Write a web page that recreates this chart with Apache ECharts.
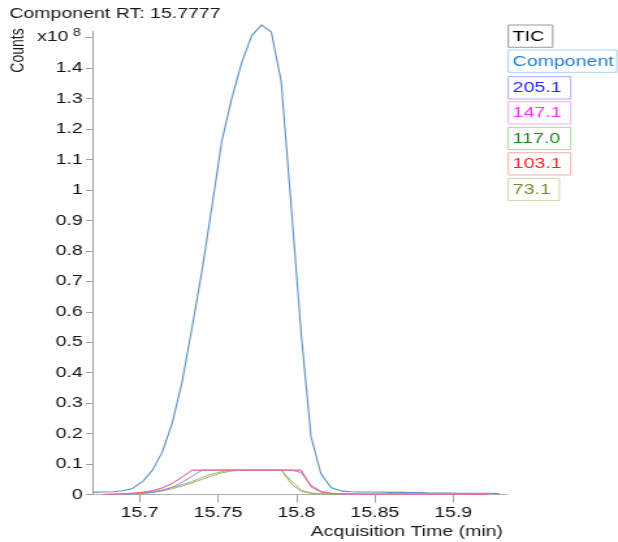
<!DOCTYPE html>
<html>
<head>
<meta charset="utf-8">
<script src="https://cdn.jsdelivr.net/npm/echarts@6/dist/echarts.min.js"></script>
<style>
html,body{margin:0;padding:0;background:#fff;overflow:hidden;}
#c{width:475px;height:542px;transform:scaleX(1.301053);transform-origin:0 0;}
</style>
</head>
<body>
<div id="c"></div>
<script>
// Retention times (min)
const times = [15.6703, 15.6766, 15.6829, 15.6892, 15.6955, 15.7019, 15.7082, 15.7145, 15.7208, 15.7271,
  15.7335, 15.7398, 15.7461, 15.7524, 15.7587, 15.7651, 15.7714, 15.7777, 15.7840, 15.7903,
  15.7967, 15.8030, 15.8093, 15.8156, 15.8219, 15.8283, 15.8346, 15.8409, 15.8472, 15.8535,
  15.8599, 15.8662, 15.8725, 15.8788, 15.8851, 15.8915, 15.8978, 15.9041, 15.9104, 15.9167,
  15.9231, 15.9294];
// Counts, x10^8
const componentVals = [0.007, 0.008, 0.009, 0.0125, 0.02, 0.042, 0.08, 0.14, 0.235, 0.37,
  0.55, 0.735, 0.945, 1.16, 1.30, 1.418, 1.506, 1.542, 1.518, 1.356,
  0.944, 0.53, 0.19, 0.069, 0.023, 0.012, 0.009, 0.008, 0.008, 0.008,
  0.007, 0.007, 0.006, 0.006, 0.005, 0.005, 0.005, 0.004, 0.004, 0.004,
  0.004, 0.003];
const ion205 = [null, 0, 0.0005, 0.001, 0.002, 0.004, 0.007, 0.013, 0.024, 0.04, 0.06,
  0.08, 0.08, 0.08, 0.08, 0.08, 0.08, 0.08, 0.08, 0.08, 0.08,
  0.072, 0.03, 0.011, 0.004, 0.002, 0.0015,
  0.001, 0.001, 0.001, 0.001, 0.001, 0.001, 0.001, 0.001, 0.001, 0.001, 0.001, 0.001, 0.001, 0.001, null];
const ion147 = [null, 0, 0.001, 0.002, 0.004, 0.008, 0.013, 0.022, 0.037, 0.058, 0.08,
  0.08, 0.08, 0.08, 0.08, 0.08, 0.08, 0.08, 0.08, 0.08, 0.08, 0.08,
  0.027, 0.009, 0.004, 0.002, 0.0015,
  0.001, 0.001, 0.001, 0.001, 0.001, 0.001, 0.001, 0.001, 0.001, 0.001, 0.001, 0.001, 0.001, 0.001, null];
const ion117 = [null, 0, 0.0005, 0.001, 0.003, 0.005, 0.009, 0.015, 0.023, 0.032, 0.043, 0.056, 0.067, 0.075,
  0.08, 0.08, 0.08, 0.08, 0.08, 0.08,
  0.045, 0.014, 0.005, 0.002, 0.0015, 0.001, 0.001,
  0.001, 0.001, 0.001, 0.001, 0.001, 0.001, 0.001, 0.001, 0.001, 0.001, 0.001, 0.001, 0.001, 0.001, null];
const ion103 = [null, 0, 0.001, 0.002, 0.004, 0.007, 0.012, 0.021, 0.036, 0.057, 0.08,
  0.08, 0.08, 0.08, 0.08, 0.08, 0.08, 0.08, 0.08, 0.08, 0.08, 0.08,
  0.025, 0.008, 0.003, 0.002, 0.0015,
  0.001, 0.001, 0.001, 0.001, 0.001, 0.001, 0.001, 0.001, 0.001, 0.001, 0.001, 0.001, 0.001, 0.001, null];
const ion73 = [null, 0, 0.0003, 0.0008, 0.002, 0.003, 0.007, 0.012, 0.019, 0.028, 0.038, 0.05, 0.061, 0.071, 0.077,
  0.08, 0.08, 0.08, 0.08, 0.08,
  0.035, 0.01, 0.004, 0.002, 0.001, 0.001, 0.001,
  0.0008, 0.0008, 0.0008, 0.0008, 0.0008, 0.0008, 0.0008, 0.0008, 0.0008, 0.0008, 0.0008, 0.0008, 0.0008, 0.0008, null];

const xTicks = [15.7, 15.75, 15.8, 15.85, 15.9];
const yTicks = [0, 0.1, 0.2, 0.3, 0.4, 0.5, 0.6, 0.7, 0.8, 0.9, 1.0, 1.1, 1.2, 1.3, 1.4, 1.5];
const yLabels = [0, 0.1, 0.2, 0.3, 0.4, 0.5, 0.6, 0.7, 0.8, 0.9, 1.0, 1.1, 1.2, 1.3, 1.4];
const legendItems = ['TIC', 'Component', '205.1', '147.1', '117.0', '103.1', '73.1'];

const FONT = 'Liberation Sans, Arial, sans-serif';

function pairs(vals) {
  const out = [];
  for (let i = 0; i < vals.length; i++) {
    if (vals[i] !== null) out.push([times[i], vals[i]]);
  }
  return out;
}

function lineSeries(name, vals, color, width) {
  return {
    name: name, type: 'line', data: pairs(vals), symbol: 'none', clip: false,
    lineStyle: { color: color, width: width }, itemStyle: { color: color },
    emphasis: { disabled: true }, z: 2
  };
}

// legend box styles
const legendStyle = [
  { w: 34.1, y: 25, stroke: '#9a9a9a', fill: '#000' },
  { w: 83.5, y: 50, stroke: '#a9d2f2', fill: '#1f7fd4' },
  { w: 48, y: 76.7, stroke: '#a8a8ff', fill: '#2424ff' },
  { w: 48, y: 101.7, stroke: '#ffa8ff', fill: '#ff2cff' },
  { w: 48, y: 127.3, stroke: '#a8d4a8', fill: '#1e8a1e' },
  { w: 48, y: 152.7, stroke: '#ffacac', fill: '#ff2222' },
  { w: 39.2, y: 178.3, stroke: '#d4d4ac', fill: '#84842a' }
];
const graphics = [];
legendItems.forEach((t, i) => {
  const s = legendStyle[i];
  graphics.push({ type: 'rect', shape: { x: 390.7, y: s.y, width: s.w, height: 22.3 },
    style: { fill: '#fff', stroke: s.stroke, lineWidth: 1 }, silent: true });
  graphics.push({ type: 'text', x: 394.1, y: s.y + 11.4,
    style: { text: t, fill: s.fill, fontSize: 15, fontFamily: FONT,
      align: 'left', verticalAlign: 'middle', textAlign: 'left', textVerticalAlign: 'middle' }, silent: true });
});
graphics.push({ type: 'text', x: 7.2, y: 14,
  style: { text: 'Component RT: 15.7777', fill: '#1a1a1a', fontSize: 15, fontFamily: FONT,
    align: 'left', verticalAlign: 'middle', textAlign: 'left', textVerticalAlign: 'middle' } });
graphics.push({ type: 'text', x: 13.8, y: 50.5, rotation: Math.PI / 2,
  style: { text: 'Counts', fill: '#1a1a1a', fontSize: 14, fontFamily: FONT,
    align: 'center', verticalAlign: 'middle', textAlign: 'center', textVerticalAlign: 'middle' } });
graphics.push({ type: 'text', x: 28.4, y: 37,
  style: { text: 'x10', fill: '#1a1a1a', fontSize: 15, fontFamily: FONT,
    align: 'left', verticalAlign: 'middle', textAlign: 'left', textVerticalAlign: 'middle' } });
graphics.push({ type: 'text', x: 56.1, y: 33,
  style: { text: '8', fill: '#1a1a1a', fontSize: 11, fontFamily: FONT,
    align: 'left', verticalAlign: 'middle', textAlign: 'left', textVerticalAlign: 'middle' } });
graphics.push({ type: 'text', x: 386.6, y: 532,
  style: { text: 'Acquisition Time (min)', fill: '#1a1a1a', fontSize: 15, fontFamily: FONT,
    align: 'right', verticalAlign: 'middle', textAlign: 'right', textVerticalAlign: 'middle' } });

const chart = echarts.init(document.getElementById('c'), null, { renderer: 'canvas' });
chart.setOption({
  animation: false,
  backgroundColor: '#fff',
  grid: { left: 71.5, right: 85.3, top: 31, bottom: 47.5, containLabel: false },
  xAxis: {
    type: 'value', min: 15.6703, max: 15.9343,
    axisLine: { show: true, onZero: false, lineStyle: { color: '#b0b0b0', width: 1 } },
    axisTick: { show: true, customValues: xTicks, length: 8, inside: false, lineStyle: { color: '#a0a0a0' } },
    axisLabel: { customValues: xTicks, margin: 11, fontSize: 15, fontFamily: FONT, color: '#111',
      formatter: v => String(+(+v).toFixed(2)) },
    splitLine: { show: false }
  },
  yAxis: {
    type: 'value', min: 0, max: 1.522,
    axisLine: { show: true, lineStyle: { color: '#a0a0a0', width: 1 } },
    axisTick: { show: true, customValues: yTicks, length: 5.4, inside: false, lineStyle: { color: '#a0a0a0' } },
    axisLabel: { customValues: yLabels, margin: 8, fontSize: 15, fontFamily: FONT, color: '#111',
      formatter: v => String(+(+v).toFixed(1)) },
    splitLine: { show: false }
  },
  series: [
    lineSeries('Component', componentVals, '#5b8ec5', 1.1),
    lineSeries('73.1', ion73, '#b8aa5a', 1),
    lineSeries('117.0', ion117, '#7fc07f', 1),
    lineSeries('205.1', ion205, '#8484ff', 1),
    lineSeries('147.1', ion147, '#f080f0', 1),
    lineSeries('103.1', ion103, '#ec6c6c', 1)
  ],
  graphic: graphics
});
</script>
</body>
</html>
